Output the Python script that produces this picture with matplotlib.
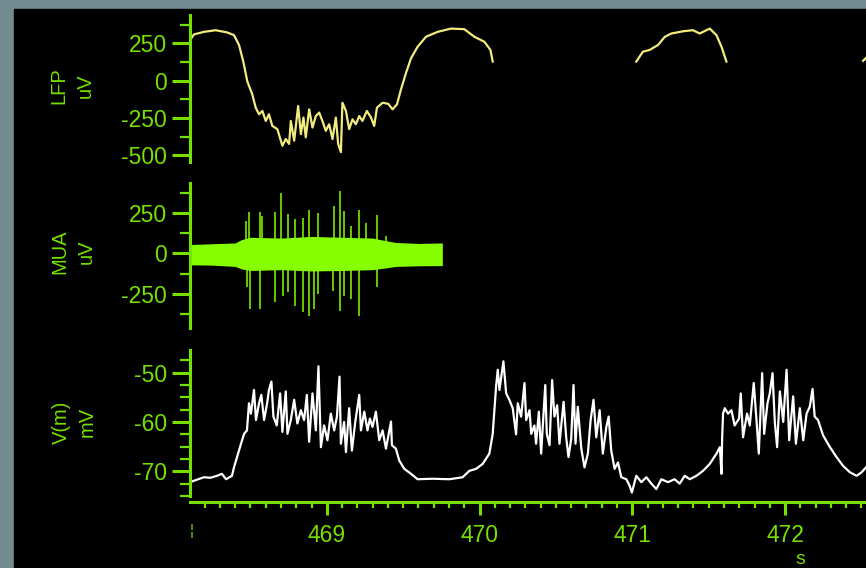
import numpy as np
import matplotlib
matplotlib.use("Agg")
import matplotlib.pyplot as plt
from matplotlib.patches import Rectangle
from matplotlib.ticker import MultipleLocator, FixedLocator

# -----------------------------
# Data
# -----------------------------
lfp_t = [468.104, 468.130, 468.195, 468.272, 468.348, 468.392, 468.425, 468.453,
         468.479, 468.512, 468.534, 468.556, 468.578, 468.600, 468.621, 468.643,
         468.676, 468.709, 468.731, 468.753, 468.764, 468.786, 468.812, 468.830,
         468.847, 468.862, 468.884, 468.906, 468.928, 468.950, 468.971, 468.993,
         469.015, 469.037, 469.059, 469.074, 469.092, 469.102, 469.125, 469.146,
         469.168, 469.190, 469.212, 469.233, 469.262, 469.289, 469.310, 469.328,
         469.365, 469.402, 469.430, 469.459, 469.485, 469.518, 469.551, 469.594,
         469.649, 469.725, 469.813, 469.900, 469.966, 470.031, 470.071, 470.086,
         470.090,
         471.026, 471.069, 471.114, 471.168, 471.213, 471.256, 471.332, 471.397,
         471.441, 471.507, 471.551, 471.584, 471.616,
         471.620,
         472.511, 472.530]
lfp_uv = [272, 310, 327, 338, 323, 305, 239, 128,
          -4, -93, -181, -225, -203, -270, -225, -303,
          -325, -436, -391, -424, -270, -402, -170, -358,
          -247, -380, -192, -314, -237, -214, -270, -336,
          -292, -391, -247, -424, -479, -148, -203, -325,
          -259, -292, -237, -270, -203, -247, -303, -181,
          -148, -155, -192, -159, -60, 51, 150, 227,
          294, 327, 349, 345, 294, 261, 206, 128,
          np.nan,
          128, 194, 206, 239, 294, 316, 331, 338,
          316, 349, 305, 227, 128,
          np.nan,
          133, 152]

# MUA: envelope of the background band + individual spikes
mua_env_t = [468.104, 468.250, 468.400, 468.440, 468.500, 468.700, 468.900,
             469.100, 469.300, 469.380, 469.450, 469.600, 469.756]
mua_env_hi = [55, 60, 65, 85, 100, 95, 105, 100, 95, 80, 68, 62, 65]
mua_env_lo = [-70, -72, -80, -95, -105, -100, -108, -105, -100, -90, -80, -76, -75]

spike_t = [468.469, 468.479, 468.490, 468.495, 468.563, 468.578, 468.661, 468.702,
           468.711, 468.744, 468.748, 468.792, 468.843, 468.845, 468.884, 468.917,
           468.945, 469.037, 469.048, 469.087, 469.113, 469.161, 469.212, 469.254,
           469.328, 469.387]
spike_hi = [201, 0, 253, 0, 257, 233, 257, 372,
            0, 243, 0, 212, 222, 0, 269, 0,
            249, 0, 294, 386, 263, 171, 269, 191,
            236, 109]
spike_lo = [0, -210, 0, -343, -343, 0, -302, 0,
            -261, 0, -240, -323, 0, -364, -385, -343,
            -251, -230, 0, -354, -261, -282, -385, 0,
            -210, 0]

vm_t = [468.105, 468.130, 468.195, 468.239, 468.281, 468.313, 468.340, 468.379,
        468.392, 468.412, 468.438, 468.458, 468.477, 468.490, 468.503, 468.523,
        468.536, 468.556, 468.571, 468.589, 468.609, 468.621, 468.637, 468.650,
        468.672, 468.694, 468.709, 468.731, 468.742, 468.764, 468.786, 468.807,
        468.830, 468.851, 468.869, 468.884, 468.906, 468.928, 468.945, 468.961,
        468.982, 469.004, 469.026, 469.048, 469.066, 469.083, 469.092, 469.113,
        469.125, 469.146, 469.164, 469.186, 469.212, 469.223, 469.245, 469.266,
        469.282, 469.299, 469.321, 469.343, 469.365, 469.387, 469.420, 469.426,
        469.452, 469.474, 469.507, 469.551, 469.594, 469.692, 469.802, 469.889,
        469.933, 469.977, 470.020, 470.064, 470.086, 470.108, 470.119, 470.130,
        470.156, 470.174, 470.195, 470.217, 470.239, 470.250, 470.272, 470.294,
        470.305, 470.327, 470.338, 470.359, 470.370, 470.388, 470.403, 470.430,
        470.440, 470.458, 470.475, 470.490, 470.508, 470.523, 470.550, 470.567,
        470.582, 470.600, 470.615, 470.628, 470.643, 470.666, 470.687, 470.709,
        470.727, 470.746, 470.764, 470.786, 470.807, 470.830, 470.845, 470.862,
        470.884, 470.906, 470.928, 470.961, 470.982, 470.997, 471.026, 471.059,
        471.092, 471.125, 471.157, 471.190, 471.233, 471.277, 471.310, 471.343,
        471.376, 471.420, 471.463, 471.507, 471.551, 471.573, 471.584, 471.588,
        471.594, 471.605, 471.627, 471.649, 471.670, 471.699, 471.710, 471.725,
        471.751, 471.769, 471.795, 471.813, 471.828, 471.850, 471.863, 471.885,
        471.900, 471.918, 471.933, 471.948, 471.966, 471.988, 472.010, 472.027,
        472.053, 472.071, 472.097, 472.119, 472.141, 472.162, 472.180, 472.194,
        472.216, 472.249, 472.294, 472.337, 472.380, 472.425, 472.469, 472.501,
        472.530]
vm_mv = [-72.2, -71.9, -71.2, -71.3, -70.9, -70.5, -71.6, -70.9,
         -69.2, -67.1, -64.4, -62.4, -61.7, -56.2, -58.3, -53.5,
         -59.6, -56.2, -54.5, -59.6, -56.2, -53.5, -51.8, -58.9,
         -60.7, -54.2, -62.0, -53.8, -62.4, -59.6, -55.5, -60.3,
         -57.6, -59.6, -54.5, -64.0, -54.2, -61.7, -48.7, -65.1,
         -60.7, -63.7, -58.3, -61.7, -58.9, -50.8, -64.4, -60.0,
         -66.1, -57.2, -65.8, -60.0, -54.5, -61.7, -57.9, -61.7,
         -59.3, -61.0, -57.9, -63.7, -61.7, -65.4, -59.9, -64.7,
         -65.4, -67.8, -69.5, -70.5, -71.6, -71.5, -71.6, -71.2,
         -69.9, -69.5, -68.5, -66.4, -62.4, -52.8, -49.4, -53.5,
         -47.7, -54.2, -55.5, -57.2, -62.5, -56.2, -58.9, -52.1,
         -59.6, -57.6, -62.4, -60.7, -64.4, -57.9, -66.4, -52.5,
         -62.4, -64.7, -51.5, -58.9, -56.6, -64.4, -55.9, -63.1,
         -67.1, -63.4, -52.5, -64.4, -56.9, -65.4, -69.2, -66.4,
         -59.6, -55.5, -63.1, -57.6, -66.4, -61.0, -58.9, -65.8,
         -69.5, -68.2, -71.2, -71.6, -72.9, -74.3, -70.9, -72.2,
         -71.2, -72.5, -73.6, -71.6, -72.2, -71.6, -72.5, -70.9,
         -71.6, -70.9, -69.9, -68.5, -66.4, -65.1, -70.5, -63.4,
         -58.3, -57.2, -58.3, -57.6, -60.7, -59.3, -54.2, -63.1,
         -58.3, -60.7, -52.1, -59.6, -66.4, -50.1, -62.4, -56.2,
         -54.2, -50.1, -60.0, -65.1, -53.8, -60.0, -49.4, -63.7,
         -54.8, -64.4, -57.2, -63.7, -58.3, -56.9, -53.3, -58.9,
         -59.6, -62.7, -65.1, -67.1, -68.9, -70.2, -70.9, -70.2,
         -69.2]

x_ticks = [469, 470, 471, 472]
x_tick_labels = ["469", "470", "471", "472"]

# -----------------------------
# Style
# -----------------------------
W, H = 866, 568
GREEN = "#76e000"
MUA_GREEN = "#86ff00"
LFP_YELLOW = "#f2ec7e"
BG = "#728b91"

plt.rcParams["font.family"] = ["Liberation Sans", "DejaVu Sans"]
plt.rcParams["axes.unicode_minus"] = False

fig = plt.figure(figsize=(W / 100, H / 100), dpi=100, facecolor=BG)

# black panel
fig.add_artist(
    Rectangle((14 / W, 0), 1, 1 - 9 / H,
              transform=fig.transFigure, color="black", zorder=0)
)


def px(left, top, right, bottom):
    return [left / W, 1 - bottom / H, (right - left) / W, (bottom - top) / H]


def style_axis(ax, ylim, major, minor):
    ax.set_facecolor("none")
    ax.set_xlim(468.104, 472.53)
    ax.set_ylim(*ylim)
    for s in ["top", "right", "bottom"]:
        ax.spines[s].set_visible(False)
    ax.spines["left"].set_color(GREEN)
    ax.spines["left"].set_linewidth(2.2)
    ax.yaxis.set_major_locator(FixedLocator(major))
    ax.yaxis.set_minor_locator(FixedLocator(minor))
    ax.tick_params(axis="y", which="major", colors=GREEN, length=13,
                   width=2.2, labelsize=16.5, pad=3.5)
    ax.tick_params(axis="y", which="minor", colors=GREEN, length=7,
                   width=1.6)
    ax.tick_params(axis="x", which="both", bottom=False, labelbottom=False)


# -----------------------------
# LFP
# -----------------------------
ax1 = fig.add_axes(px(190, 15, 866, 162))
style_axis(ax1, (-545, 440), [250, 0, -250, -500], [375, 125, -125, -375])
ax1.plot(lfp_t, lfp_uv, color=LFP_YELLOW, lw=1.6)

# -----------------------------
# MUA
# -----------------------------
ax2 = fig.add_axes(px(190, 183, 866, 328))
style_axis(ax2, (-460, 435), [250, 0, -250], [375, 125, -125, -375])
ax2.fill_between(mua_env_t, mua_env_lo, mua_env_hi, color=MUA_GREEN, lw=0)
ax2.vlines(spike_t, spike_lo, spike_hi, color=MUA_GREEN, lw=1.1)

# -----------------------------
# V(m)
# -----------------------------
ax3 = fig.add_axes(px(190, 350, 866, 496))
style_axis(ax3, (-75, -45.4), [-50, -60, -70],
           [-47.5, -52.5, -55, -57.5, -62.5, -65, -67.5, -72.5, -75])
ax3.plot(vm_t, vm_mv, color="white", lw=1.6)

ax3.spines["bottom"].set_visible(True)
ax3.spines["bottom"].set_color(GREEN)
ax3.spines["bottom"].set_linewidth(2.2)
ax3.spines["bottom"].set_position(("outward", 4.5))
ax3.xaxis.set_major_locator(FixedLocator(x_ticks))
ax3.set_xticklabels(x_tick_labels)
ax3.xaxis.set_minor_locator(MultipleLocator(0.1))
ax3.tick_params(axis="x", which="major", bottom=True, labelbottom=True,
                colors=GREEN, length=9.5, width=2.2, labelsize=16.5, pad=6)
ax3.tick_params(axis="x", which="minor", bottom=True, colors=GREEN,
                length=4.5, width=1.6)

# -----------------------------
# Labels
# -----------------------------
label_kw = dict(color=GREEN, rotation=90, ha="center", va="center",
                fontsize=14.5, linespacing=1.45, multialignment="center")
fig.text(72 / W, 1 - 86 / H, "LFP\nuV", **label_kw)
fig.text(73 / W, 1 - 252 / H, "MUA\nuV", **label_kw)
fig.text(74 / W, 1 - 422 / H, "V(m)\nmV", **label_kw)

fig.text(800 / W, 1 - 560 / H, "s", color=GREEN, fontsize=14,
         ha="center", va="center")
fig.text(192 / W, 1 - 531 / H, "¦", color=GREEN, fontsize=11,
         ha="center", va="center")

fig.savefig("out.png", dpi=100, facecolor=BG)
